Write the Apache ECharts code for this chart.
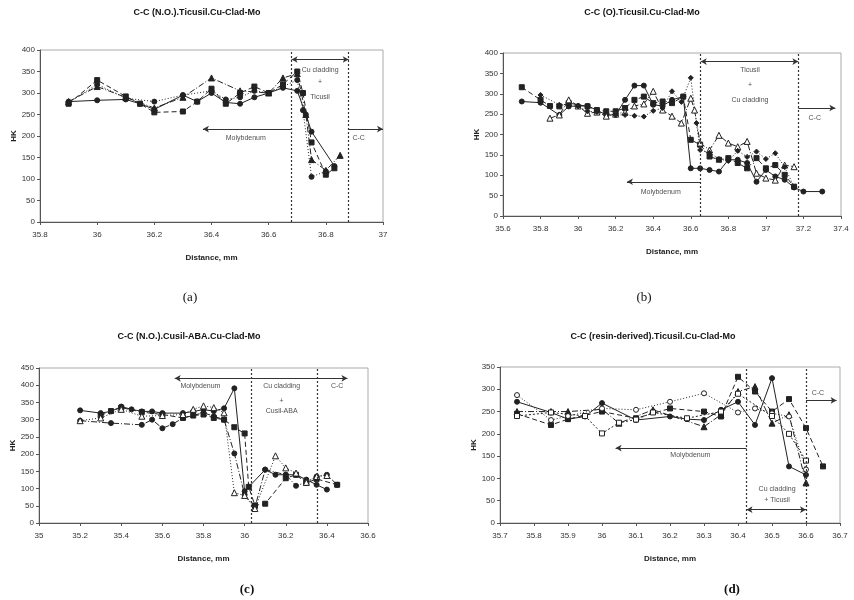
<!DOCTYPE html>
<html lang="en">
<head>
<meta charset="UTF-8">
<title>HK profiles</title>
<script src="https://cdn.jsdelivr.net/npm/echarts@6/dist/echarts.min.js"></script>
<style>body{margin:0;background:#fff}</style>
</head>
<body>
<div id="main" style="width:854px;height:600px"></div>
<script>
// --- data: [distance mm, HK] ---
var a1 = [[35.9,280],[36.0,283],[36.1,285],[36.15,275],[36.2,262],[36.3,295],[36.35,280],[36.4,300],[36.45,278],[36.5,275],[36.55,290],[36.6,300],[36.65,312],[36.7,305],[36.73,250],[36.75,210],[36.83,130]];
var a2 = [[35.9,275],[36.0,330],[36.1,292],[36.15,275],[36.2,255],[36.3,257],[36.35,280],[36.4,310],[36.45,275],[36.5,300],[36.55,315],[36.6,300],[36.65,320],[36.7,350],[36.72,300],[36.75,185],[36.8,110],[36.83,125]];
var a3 = [[35.9,280],[36.0,315],[36.1,290],[36.2,265],[36.3,290],[36.4,335],[36.5,305],[36.6,300],[36.65,335],[36.7,345],[36.73,250],[36.75,145],[36.8,120],[36.85,155]];
var a4 = [[35.9,278],[36.0,320],[36.1,288],[36.2,280],[36.3,295],[36.4,305],[36.45,285],[36.5,290],[36.55,305],[36.6,300],[36.65,315],[36.7,330],[36.72,260],[36.75,105],[36.8,118]];

var b1 = [[35.7,281],[35.8,278],[35.9,248],[35.95,269],[36.0,270],[36.05,270],[36.1,260],[36.15,248],[36.2,248],[36.25,285],[36.3,320],[36.35,320],[36.4,273],[36.45,270],[36.5,285],[36.56,293],[36.6,117],[36.65,117],[36.7,113],[36.75,109],[36.8,138],[36.85,138],[36.9,130],[36.95,84],[37.0,113],[37.05,97],[37.1,89],[37.15,70],[37.2,60],[37.3,60]];
var b2 = [[35.7,316],[35.8,285],[35.85,270],[35.9,269],[35.95,277],[36.05,269],[36.1,260],[36.15,257],[36.2,257],[36.25,265],[36.3,285],[36.35,293],[36.4,277],[36.45,281],[36.5,277],[36.56,293],[36.6,187],[36.65,175],[36.7,146],[36.75,138],[36.8,142],[36.85,130],[36.9,117],[36.95,142],[37.0,117],[37.05,125],[37.1,101],[37.15,72]];
var b3 = [[35.85,240],[35.9,248],[35.95,285],[36.0,270],[36.05,252],[36.1,255],[36.15,245],[36.2,250],[36.25,255],[36.3,270],[36.35,275],[36.4,306],[36.45,260],[36.5,245],[36.55,228],[36.6,289],[36.62,260],[36.65,179],[36.7,162],[36.75,198],[36.8,179],[36.85,170],[36.9,183],[36.95,105],[37.0,93],[37.05,88],[37.1,125],[37.15,121]];
var b4 = [[35.8,297],[35.9,273],[36.0,269],[36.05,257],[36.1,255],[36.2,248],[36.25,248],[36.3,246],[36.35,244],[36.4,258],[36.45,265],[36.5,306],[36.55,280],[36.6,339],[36.63,228],[36.65,162],[36.7,155],[36.75,140],[36.8,135],[36.85,160],[36.9,145],[36.95,158],[37.0,140],[37.05,154],[37.1,120],[37.15,72]];

var c1 = [[35.2,327],[35.3,319],[35.35,324],[35.4,338],[35.45,330],[35.5,324],[35.55,324],[35.6,319],[35.7,319],[35.75,324],[35.8,329],[35.85,325],[35.9,333],[35.95,391],[36.0,92],[36.1,155],[36.15,140],[36.2,140],[36.25,140],[36.3,126],[36.35,111],[36.4,97]];
var c2 = [[35.3,312],[35.35,325],[35.4,335],[35.5,322],[35.6,315],[35.7,305],[35.75,312],[35.8,315],[35.85,305],[35.9,300],[35.95,278],[36.0,260],[36.02,105],[36.05,51],[36.1,56],[36.2,130],[36.25,140],[36.3,116],[36.35,128],[36.45,111]];
var c3 = [[35.2,297],[35.35,290],[35.5,285],[35.55,300],[35.6,275],[35.65,287],[35.7,305],[35.8,320],[35.85,310],[35.9,300],[35.95,202],[36.0,82],[36.05,45],[36.1,155],[36.2,140],[36.25,108],[36.3,118],[36.35,135],[36.4,140],[36.45,111]];
var c4 = [[35.2,297],[35.3,305],[35.4,330],[35.5,310],[35.6,312],[35.7,315],[35.75,330],[35.8,340],[35.85,335],[35.9,320],[35.95,88],[36.0,80],[36.05,42],[36.15,195],[36.2,160],[36.25,145],[36.3,118],[36.35,135],[36.4,138]];

var d1 = [[35.75,272],[35.85,248],[35.9,233],[35.95,239],[36.0,269],[36.1,231],[36.2,239],[36.25,233],[36.3,231],[36.35,254],[36.4,272],[36.45,220],[36.5,325],[36.55,127],[36.6,108]];
var d2 = [[35.75,245],[35.85,220],[35.9,233],[36.0,250],[36.1,235],[36.2,257],[36.3,250],[36.35,239],[36.4,328],[36.45,295],[36.5,250],[36.55,278],[36.6,213],[36.65,127]];
var d3 = [[35.75,250],[35.85,250],[35.9,250],[36.0,255],[36.05,224],[36.15,254],[36.3,216],[36.35,243],[36.4,295],[36.45,306],[36.5,224],[36.55,243],[36.6,90]];
var d4 = [[35.75,287],[35.85,231],[35.9,240],[36.0,257],[36.1,254],[36.2,272],[36.3,291],[36.4,248],[36.45,257],[36.5,246],[36.55,239],[36.6,120]];
var d5 = [[35.75,240],[35.85,248],[35.95,240],[36.0,201],[36.05,225],[36.1,232],[36.15,248],[36.25,235],[36.35,250],[36.4,290],[36.5,240],[36.55,200],[36.6,140]];

var titles = ['C-C (N.O.).Ticusil.Cu-Clad-Mo', 'C-C (O).Ticusil.Cu-Clad-Mo',
              'C-C (N.O.).Cusil-ABA.Cu-Clad-Mo', 'C-C (resin-derived).Ticusil.Cu-Clad-Mo'];
var captions = ['(a)', '(b)', '(c)', '(d)'];
var xRanges = [[35.8, 37, 0.2], [35.6, 37.4, 0.2], [35, 36.6, 0.2], [35.7, 36.7, 0.1]];
var yRanges = [[0, 400], [0, 400], [0, 450], [0, 350]];

// region boundaries (dotted verticals) and annotation texts
var vLines = [[36.68, 36.88], [36.653, 37.173], [36.03, 36.354], [36.425, 36.6]];
var notes = [
  [['Cu cladding', 36.78, 353], ['+', 36.78, 326], ['Ticusil', 36.78, 291], ['Molybdenum', 36.52, 196], ['C-C', 36.915, 196]],
  [['Ticusil', 36.915, 359], ['+', 36.915, 322], ['Cu cladding', 36.915, 285], ['Molybdenum', 36.44, 58], ['C-C', 37.26, 240]],
  [['Molybdenum', 35.785, 398], ['Cu cladding', 36.18, 398], ['+', 36.18, 353], ['Cusil-ABA', 36.18, 324], ['C-C', 36.45, 398]],
  [['Molybdenum', 36.26, 153], ['Cu cladding', 36.515, 76], ['+ Ticusil', 36.515, 52], ['C-C', 36.635, 291]]
];
// arrows: [x1, x2, y, headAtStart, headAtEnd]
var arrows = [
  [[36.68, 36.88, 378, 1, 1], [36.68, 36.37, 216, 0, 1], [36.88, 37.0, 216, 0, 1]],
  [[36.653, 37.173, 379, 1, 1], [36.653, 36.26, 84, 0, 1], [37.173, 37.37, 265, 0, 1]],
  [[36.03, 35.66, 420, 0, 1], [36.03, 36.354, 420, 0, 0], [36.354, 36.5, 420, 0, 1]],
  [[36.425, 36.6, 30, 1, 1], [36.425, 36.04, 168, 0, 1], [36.6, 36.69, 275, 0, 1]]
];

var panelSeries = [
  [[a1, 'solid', 'circle', 1], [a2, [5, 3], 'rect', 1], [a3, [6, 2, 1, 2], 'triangle', 1], [a4, [1, 2], 'circle', 1]],
  [[b1, 'solid', 'circle', 1], [b2, [5, 3], 'rect', 1], [b3, [6, 2, 1, 2], 'triangle', 0], [b4, [1, 2], 'diamond', 1]],
  [[c1, 'solid', 'circle', 1], [c2, [5, 3], 'rect', 1], [c3, [6, 2, 1, 2], 'circle', 1], [c4, [1, 2], 'triangle', 0]],
  [[d1, 'solid', 'circle', 1], [d2, [5, 3], 'rect', 1], [d3, [6, 2, 1, 2], 'triangle', 1], [d4, [1, 2], 'circle', 0], [d5, [2, 2], 'rect', 0]]
];

var grids = [
  {left: 40, top: 50, width: 343, height: 172},
  {left: 503, top: 53, width: 338, height: 163},
  {left: 39, top: 368, width: 329, height: 155},
  {left: 500, top: 367, width: 340, height: 156}
];
var titlePos = [[197, 13], [642, 13], [189, 337], [653, 337]];
var capPos = [[190, 298, 'normal'], [644, 298, 'normal'], [247, 590, 'bold'], [732, 590, 'bold']];

var ink = '#222';
var xAxes = [], yAxes = [], series = [], graphics = [];

grids.forEach(function (g, i) {
  g.show = true; g.borderColor = '#aaa'; g.borderWidth = 1;
  xAxes.push({
    type: 'value', gridIndex: i, min: xRanges[i][0], max: xRanges[i][1], interval: xRanges[i][2],
    name: 'Distance, mm', nameLocation: 'middle', nameGap: 32,
    nameTextStyle: {fontFamily: 'Liberation Sans', fontWeight: 'bold', fontSize: 8, color: ink},
    axisLine: {lineStyle: {color: '#555'}}, axisTick: {length: 3, lineStyle: {color: '#555'}},
    axisLabel: {fontFamily: 'Liberation Sans', fontSize: 8, color: '#333', margin: 9,
      formatter: function (v) { return String(+v.toFixed(1)); }},
    splitLine: {show: false}
  });
  yAxes.push({
    type: 'value', gridIndex: i, min: yRanges[i][0], max: yRanges[i][1], interval: 50,
    name: 'HK', nameLocation: 'middle', nameGap: 22, nameRotate: 90,
    nameTextStyle: {fontFamily: 'Liberation Sans', fontWeight: 'bold', fontSize: 8, color: ink},
    axisLine: {show: true, lineStyle: {color: '#555'}}, axisTick: {show: true, length: 3, lineStyle: {color: '#555'}},
    axisLabel: {fontFamily: 'Liberation Sans', fontSize: 8, color: '#333', margin: 5},
    splitLine: {show: false}
  });

  panelSeries[i].forEach(function (s) {
    series.push({
      type: 'line', xAxisIndex: i, yAxisIndex: i, data: s[0], silent: true,
      symbol: s[2], symbolSize: s[2] === 'triangle' ? 6 : 5,
      lineStyle: {color: ink, width: 1, type: s[1]},
      itemStyle: {color: s[3] ? ink : '#fff', borderColor: ink, borderWidth: 1},
      animation: false
    });
  });

  var ml = [];
  vLines[i].forEach(function (x) {
    ml.push([{coord: [x, yRanges[i][0]], lineStyle: {type: [2, 2], width: 1.2, color: '#333'}},
             {coord: [x, yRanges[i][1]]}]);
  });
  arrows[i].forEach(function (a) {
    ml.push([{coord: [a[0], a[2]], symbol: a[3] ? 'arrow' : 'none', lineStyle: {type: 'solid', width: 1, color: '#333'}},
             {coord: [a[1], a[2]], symbol: a[4] ? 'arrow' : 'none'}]);
  });

  series.push({
    type: 'scatter', xAxisIndex: i, yAxisIndex: i, symbolSize: 0, silent: true, animation: false,
    data: notes[i].map(function (n) { return {name: n[0], value: [n[1], n[2]]}; }),
    label: {show: true, position: 'inside', formatter: '{b}', fontFamily: 'Liberation Sans', fontSize: 7, color: ink},
    markLine: {silent: true, symbol: ['none', 'none'], symbolSize: [5, 6], label: {show: false},
      animation: false, data: ml}
  });

  graphics.push({type: 'text', x: titlePos[i][0], y: titlePos[i][1],
    style: {text: titles[i], textAlign: 'center', textVerticalAlign: 'middle',
      font: 'bold 9px "Liberation Sans"', fill: '#111'}});
  graphics.push({type: 'text', x: capPos[i][0], y: capPos[i][1],
    style: {text: captions[i], textAlign: 'center', textVerticalAlign: 'middle',
      font: capPos[i][2] + ' 13px "Liberation Serif"', fill: '#111'}});
});

var chart = echarts.init(document.getElementById('main'));
chart.setOption({
  backgroundColor: '#fff',
  animation: false,
  grid: grids,
  xAxis: xAxes,
  yAxis: yAxes,
  series: series,
  graphic: graphics
});
</script>
</body>
</html>
